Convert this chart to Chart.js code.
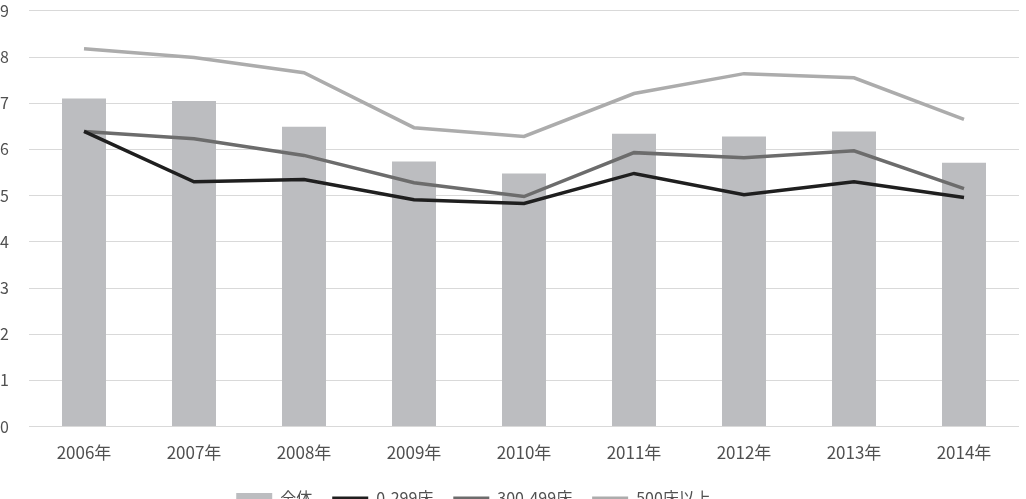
<!DOCTYPE html>
<html>
<head>
<meta charset="utf-8">
<script src="https://cdn.jsdelivr.net/npm/chart.js@4/dist/chart.umd.min.js"></script>
<style>
    html, body { margin: 0; padding: 0; background: #fff; overflow: hidden; }
    #wrap { width: 1026px; height: 517px; position: relative; }
</style>
</head>
<body>
<div id="wrap"><canvas id="chart"></canvas></div>
<script>
// 年度
const years = ['2006年', '2007年', '2008年', '2009年', '2010年', '2011年', '2012年', '2013年', '2014年'];

// 全体 (棒)
const allBeds = [7.10, 7.05, 6.49, 5.74, 5.48, 6.34, 6.28, 6.39, 5.71];
// 0-299床
const small = [6.39, 5.30, 5.35, 4.91, 4.83, 5.48, 5.02, 5.30, 4.96];
// 300-499床
const medium = [6.39, 6.23, 5.87, 5.28, 4.98, 5.93, 5.82, 5.97, 5.15];
// 500床以上
const large = [8.18, 7.99, 7.66, 6.47, 6.28, 7.21, 7.64, 7.55, 6.65];

const yTicks = [0, 1, 2, 3, 4, 5, 6, 7, 8, 9];

const FONT = '"Noto Sans CJK JP", "Noto Sans", sans-serif';
const TEXT = '#505050';

function lineSet(label, data, color) {
    return {
        type: 'line',
        label: label,
        data: data,
        borderColor: color,
        backgroundColor: color,
        borderWidth: 3.5,
        pointRadius: 0,
        tension: 0,
        order: 0,
    };
}

// 凡例を少し左・上に寄せる
const legendShift = {
    id: 'legendShift',
    afterLayout(chart) {
        chart.legend.right -= 72;
        chart.legend.top -= 1;
    },
};

new Chart(document.getElementById('chart'), {
    data: {
        labels: years,
        datasets: [
            {
                type: 'bar',
                label: '全体',
                data: allBeds,
                backgroundColor: '#bcbdc0',
                borderWidth: 0,
                barPercentage: 0.8,
                categoryPercentage: 0.5,
                order: 1,
            },
            lineSet('0-299床', small, '#1f1f1f'),
            lineSet('300-499床', medium, '#6c6c6c'),
            lineSet('500床以上', large, '#acacac'),
        ],
    },
    plugins: [legendShift],
    options: {
        responsive: true,
        maintainAspectRatio: false,
        animation: false,
        layout: {
            padding: { top: 0, right: 7, left: 0, bottom: 0 },
        },
        plugins: {
            tooltip: { enabled: false },
            legend: {
                position: 'bottom',
                labels: {
                    font: { family: FONT, size: 16 },
                    color: TEXT,
                    usePointStyle: true,
                    pointStyleWidth: 36,
                    boxHeight: 10,
                    padding: 20,
                    generateLabels: (chart) =>
                        chart.data.datasets.map((ds, i) => ({
                            text: ds.label,
                            datasetIndex: i,
                            fillStyle: ds.backgroundColor,
                            strokeStyle: ds.type === 'bar' ? ds.backgroundColor : ds.borderColor,
                            lineWidth: ds.type === 'bar' ? 0 : 3,
                            pointStyle: ds.type === 'bar' ? 'rect' : 'line',
                            fontColor: TEXT,
                        })),
                },
            },
        },
        scales: {
            x: {
                grid: { display: false },
                border: { display: false },
                ticks: {
                    color: TEXT,
                    font: { family: FONT, size: 17 },
                    padding: 8,
                    maxRotation: 0,
                },
            },
            y: {
                min: 0,
                max: 9,
                afterBuildTicks: (scale) => {
                    scale.ticks = yTicks.map((v) => ({ value: v }));
                },
                afterFit: (scale) => {
                    scale.width = 29;
                },
                grid: { color: '#d9d9d9', lineWidth: 1, drawTicks: false },
                border: { display: false },
                ticks: {
                    color: TEXT,
                    font: { family: FONT, size: 16, lineHeight: 0.85 },
                    crossAlign: 'far',
                    padding: 4,
                },
            },
        },
    },
});
</script>
</body>
</html>
